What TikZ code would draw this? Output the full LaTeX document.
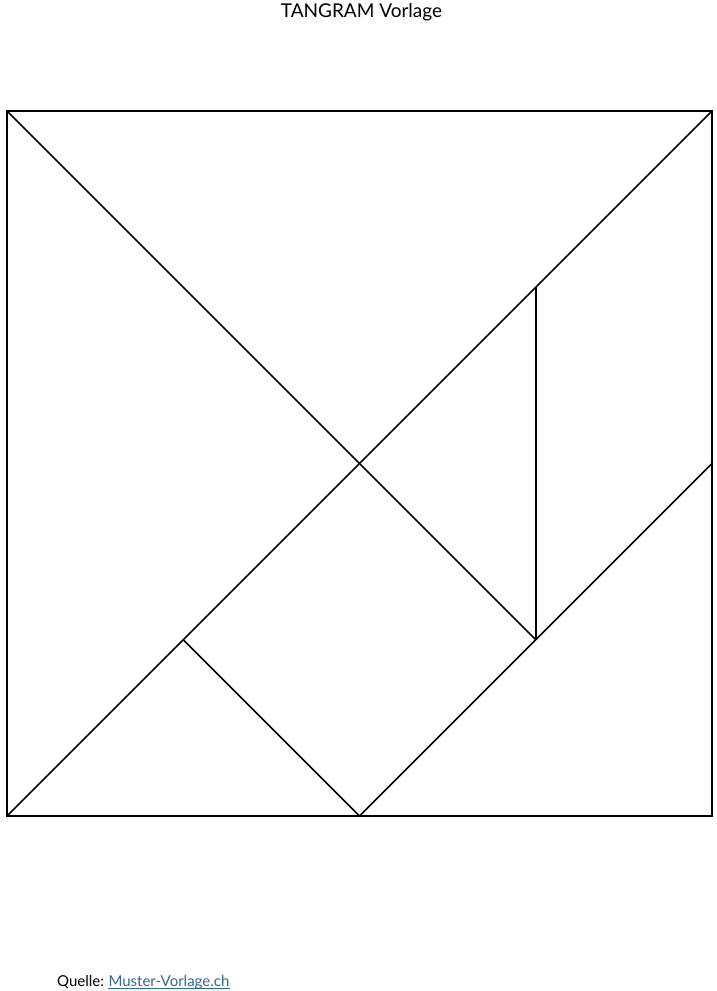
\documentclass[tikz,border=0pt]{standalone}
\usepackage{fontspec}
\setmainfont{Lato}
\definecolor{linkcol}{HTML}{2F6B8A}
\begin{document}
\begin{tikzpicture}[x=1pt,y=-1pt,
  piece/.style={draw=black,line width=1.5pt,line join=miter},
  lbl/.style={inner sep=0pt}]
\useasboundingbox (0,0) rectangle (716,991);
\coordinate (TL) at (7,111);
\coordinate (TR) at (712,111);
\coordinate (BR) at (712,816);
\coordinate (BL) at (7,816);
\coordinate (C) at (359.5,463.5);
\coordinate (P) at (535.75,639.75);
\coordinate (Q) at (535.75,287.25);
\coordinate (R) at (712,463.5);
\coordinate (S) at (359.5,816);
\coordinate (T) at (183.25,639.75);
\draw[piece] (TL) rectangle (BR);
\draw[piece] (TL) -- (P);
\draw[piece] (BL) -- (TR);
\draw[piece] (Q) -- (P);
\draw[piece] (R) -- (S);
\draw[piece] (T) -- (S);
\node[lbl,anchor=base,font=\fontsize{19}{22}\selectfont] (title) at (361.5,17) {TANGRAM Vorlage};
\node[lbl,anchor=base west,font=\fontsize{15}{18}\selectfont] (src) at (57,986) {Quelle:};
\node[lbl,anchor=base west,font=\fontsize{15}{18}\selectfont,text=linkcol] (link) at ([xshift=4pt]src.base east) {Muster-Vorlage.ch};
\draw[linkcol,line width=1pt] ([yshift=-2.5pt]link.base west) -- ([yshift=-2.5pt]link.base east);
\end{tikzpicture}
\end{document}
